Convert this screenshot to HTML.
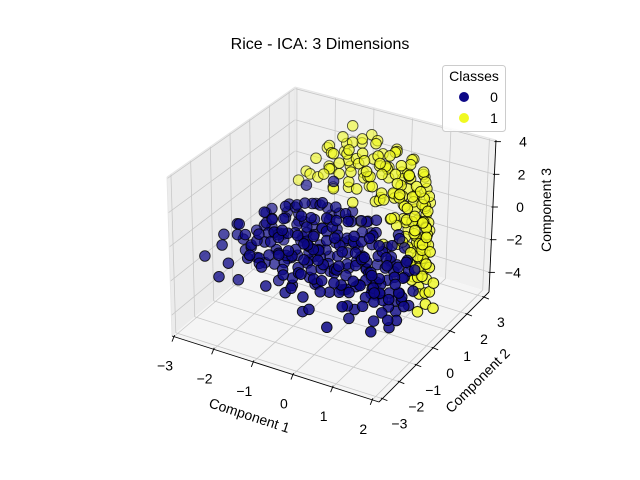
<!DOCTYPE html>
<html><head><meta charset="utf-8"><style>
html,body{margin:0;padding:0;background:#fff;}
svg{display:block;font-family:"Liberation Sans","DejaVu Sans",sans-serif;}
</style></head><body>
<svg id="chart" width="640" height="480" viewBox="0 0 640 480" xmlns="http://www.w3.org/2000/svg">
<rect width="640" height="480" fill="#fff"/>
<g id="panes"></g>
<g id="grid"></g>
<g id="points"></g>
<g id="axes"></g>
<text x="320" y="49" text-anchor="middle" font-size="16" fill="#000">Rice - ICA: 3 Dimensions</text>
<text transform="translate(248,420) rotate(18)" text-anchor="middle" font-size="14">Component 1</text>
<text transform="translate(481,384) rotate(-45)" text-anchor="middle" font-size="14">Component 2</text>
<text transform="translate(551,210) rotate(-90)" text-anchor="middle" font-size="14">Component 3</text>
<g>
<rect x="442.5" y="65.5" width="63" height="66" rx="3" fill="#fff" fill-opacity="0.85" stroke="#ccc"/>
<text x="474" y="81" text-anchor="middle" font-size="14">Classes</text>
<g><circle cx="464" cy="97" r="5" fill="#0d0887"/><text x="494" y="102" text-anchor="middle" font-size="14">0</text></g>
<g><circle cx="464" cy="118" r="5" fill="#f0f921"/><text x="494" y="123" text-anchor="middle" font-size="14">1</text></g>
</g>
</svg>
<script>
const xTicks=[-3,-2,-1,0,1,2];
const yTicks=[-3,-2,-1,0,1,2,3];
const zTicks=[-4,-2,0,2,4];
const xTickLabels=["\u22123","\u22122","\u22121","0","1","2"];
const yTickLabels=["\u22123","\u22122","\u22121","0","1","2","3"];
const zTickLabels=["\u22124","\u22122","0","2","4"];
const class0Points=[
[-2.7,-1.2,-1.4],[-2.5,-0.8,-1.0],[-2.4,-1.5,-2.0],[-2.6,-0.3,-1.8],[-2.3,0.2,-1.2],[-2.2,-1.0,-0.6],[-2.1,-0.5,-2.4],[-2.4,0.5,-0.8],[-2.0,-1.3,-1.6],[-2.2,0.8,-2.2],[-2.0,0.0,-0.4],[-2.5,-1.8,-2.6],[-2.1,1.0,-1.0],[-2.3,-0.2,-2.8],[-3.0,-1.5,-2.0],
[-1.9,-0.6,-1.2],[-1.8,0.3,-0.5],[-1.7,-1.2,-2.0],[-1.9,1.2,-1.6],[-1.6,-0.2,-2.6],[-1.5,0.7,-0.9],[-1.8,-1.6,-1.0],[-1.4,-0.9,-0.3],[-1.7,0.9,-2.4],[-1.3,-0.4,-1.8],[-1.6,1.5,-0.6],[-1.2,0.2,-1.4],[-1.5,-1.4,-2.8],[-1.4,1.0,-1.9],[-1.1,-1.0,-0.8],[-1.3,0.5,-2.9],[-1.9,-0.1,-3.0],[-1.2,1.3,-0.4],[-1.0,-0.2,-2.2],[-1.7,0.0,-0.2],[-1.1,0.8,-1.1],[-1.5,-0.7,-1.5],[-1.0,-1.5,-1.7],[-1.3,1.7,-1.3],[-1.8,0.6,-3.2],[-1.2,-0.6,-3.3],[-1.6,0.4,0.2],[-1.4,0.1,-2.3],
[-0.9,0.4,-0.6],[-0.8,-0.8,-1.3],[-0.7,1.1,-2.0],[-0.9,-1.3,-2.6],[-0.6,0.0,-0.2],[-0.5,-0.5,-1.9],[-0.8,1.6,-1.1],[-0.4,0.7,-2.7],[-0.7,-0.3,-3.1],[-0.3,-1.1,-0.7],[-0.6,1.4,-0.3],[-0.2,0.3,-1.5],[-0.5,-1.6,-1.2],[-0.1,0.9,-2.2],[-0.4,-0.1,0.3],[-0.9,0.2,-1.7],[-0.2,-0.7,-2.9],[-0.6,0.6,-1.0],[-0.3,1.8,-1.8],[-0.8,-0.4,-2.3],[-0.1,-0.2,-0.9],[-0.5,1.0,-3.3],[-0.7,-1.0,-0.1],[-0.2,0.5,0.2],[-0.4,-1.4,-3.4],[-0.95,0.9,-2.8],[-0.15,1.3,-0.5],
[0.1,0.1,-1.1],[0.2,-0.9,-2.0],[0.3,0.8,-0.4],[0.1,-0.4,-2.8],[0.4,1.2,-1.6],[0.5,-0.2,-3.2],[0.2,0.5,-2.4],[0.6,-1.1,-1.3],[0.3,1.6,-2.9],[0.7,0.3,-0.8],[0.4,-0.6,-3.6],[0.8,0.9,-2.1],[0.5,-1.5,-2.5],[0.6,1.4,-0.9],[0.9,-0.3,-1.7],[0.1,1.0,-3.5],[0.7,-0.8,-3.0],[0.3,0.0,-0.2],[0.8,0.5,-3.4],[0.9,1.1,-1.2],[0.2,-1.3,-1.5],[0.6,0.2,-2.6],[0.4,0.6,-3.9],
[1.0,-0.5,-2.3],[1.1,0.4,-3.1],[1.2,-0.1,-1.6],[1.0,0.9,-2.7],[1.3,-0.7,-3.5],[1.1,0.2,-4.0],[1.2,0.7,-2.0],[1.4,0.0,-3.3],[1.0,-1.0,-4.1],[1.3,0.5,-3.8],[1.5,0.3,-2.6],[1.2,-0.4,-4.3],
[0.1,-1.5,-4.0],[-0.8,-0.9,-4.3],[-1.6,1.0,1.0],[-0.9,1.0,1.7],
[-2.2,-0.7,-1.5],[-1.9,0.4,-2.0],[-1.6,-0.9,-0.7],[-1.4,0.6,-1.4],[-1.2,-0.3,-0.6],[-1.0,0.5,-2.5],[-0.8,0.0,-1.5],[-0.6,-0.7,-2.4],[-0.4,0.3,-1.2],[-0.2,-0.4,-1.8],[0.0,0.6,-1.9],[0.2,-0.1,-1.6],[0.4,0.2,-2.2],[0.6,-0.4,-1.9],[0.8,0.0,-2.4],[1.0,0.3,-1.8],[-1.7,-0.4,-1.7],[-1.1,0.1,-1.9],[-0.5,0.4,-2.0],[0.0,-0.6,-1.3],[0.5,0.5,-1.4],[-1.3,-1.1,-1.1],[-0.9,1.2,-1.4],[-0.3,-0.9,-2.1],[0.3,-0.3,-2.6],[0.9,-0.6,-2.8],[-2.0,0.6,-1.9],[-1.5,0.2,-1.1],[-0.7,0.7,-1.6],[-0.1,0.0,-2.5],[0.7,0.8,-1.6],[1.1,-0.2,-2.9],[-1.8,-0.3,-0.8],[-1.0,-0.7,-2.0],[-0.2,1.1,-1.0],[0.4,-0.9,-2.3],[-2.4,0.0,-1.4],[-1.2,0.9,-2.3],[0.0,0.2,-0.6],[0.6,-0.1,-3.0],
[-2.3,-0.5,-1.9],[-2.1,0.3,-1.6],[-1.9,-0.9,-2.2],[-1.7,0.7,-1.2],[-1.5,-0.3,-2.0],[-1.3,0.4,-0.8],[-1.1,-0.8,-2.6],[-0.9,0.6,-2.1],[-0.7,-0.5,-0.9],[-0.5,0.9,-1.4],[-0.3,-0.2,-2.3],[-0.1,0.5,-1.1],[0.1,-0.8,-2.6],[0.3,0.3,-1.7],[0.5,-0.5,-2.2],[0.7,0.6,-2.8],[0.9,-0.1,-3.2],[1.1,0.6,-2.4],[1.3,0.1,-2.9],[-2.2,0.1,-0.9],[-2.0,-0.4,-2.7],[-1.8,1.0,-0.9],[-1.6,-1.0,-1.4],[-1.4,-0.4,-0.5],[-1.2,0.6,-2.7],[-1.0,-0.1,-1.3],[-0.8,-1.1,-1.8],[-0.6,0.2,-2.8],[-0.4,-0.6,-1.5],[-0.2,0.8,-2.5],[0.0,-0.3,-3.0],[0.2,0.8,-1.2],[0.4,-0.2,-1.0],[0.6,0.4,-3.5],[0.8,-0.5,-1.4],[1.0,0.0,-3.6],[1.2,0.3,-3.4],[1.4,-0.3,-2.2],[-2.5,-0.4,-2.3],[-1.9,0.1,-1.4],[-1.3,-0.2,-1.6],[-0.7,0.3,-2.5],[-0.1,-0.5,-1.7],[0.5,0.1,-2.0],[1.1,-0.6,-3.3],[-1.6,0.8,-2.0],[-1.0,1.0,-0.7],[-0.4,1.3,-2.3],[0.2,1.1,-2.7],[0.8,0.3,-1.1],[-1.4,-0.7,-2.4],[-0.8,-0.6,-0.6],[-0.2,-1.2,-2.4],[0.4,-1.0,-3.0],[1.0,-0.8,-2.0],[-2.0,-0.8,-1.0],[-1.1,0.4,-0.2],[-0.5,-0.2,-0.5],[0.1,0.3,-3.2],[0.7,-0.2,-2.5],[-1.7,0.2,-2.8],[-0.9,-0.3,-2.9],[0.3,0.6,-3.6],[1.2,0.1,-1.2],[-2.3,0.6,-1.7],[-1.5,1.1,-1.5],[-0.6,1.2,-1.9],[0.5,0.9,-2.5],[0.9,0.6,-3.9],[1.3,-0.2,-4.0],
[-2.4,-0.9,-0.2],[-2.1,-0.2,0.1],[-1.9,0.7,-0.1],[-1.7,-0.6,0.3],[-1.5,0.3,0.5],[-1.3,-0.9,0.2],[-1.1,0.7,0.4],[-0.9,-0.2,0.6],[-0.7,0.9,0.0],[-0.5,-0.9,0.4],[-0.3,0.4,0.7],[-0.1,-0.6,0.3],[0.1,0.7,0.2],[0.3,-0.4,0.5],[0.5,0.2,0.1],[0.7,-0.7,-0.2],[0.9,0.4,-0.4],[1.1,-0.3,-0.8],[1.3,0.4,-1.0],[1.4,-0.5,-1.5],[-2.2,0.4,-0.3],[-1.8,-1.1,-0.2],[-1.4,0.9,0.1],[-1.0,-0.5,0.9],[-0.6,0.5,0.8],[-0.2,-0.3,1.0],[0.2,0.2,0.8],[0.6,-0.2,0.4],[1.0,0.6,-0.1],[-1.6,-0.1,0.7],[-1.2,0.1,1.0],[-0.8,0.2,1.2],[-0.4,-0.4,1.1],[0.0,-0.1,0.9],[0.4,0.6,0.6],[0.8,-0.1,0.0],[-2.6,-0.6,-0.6],[-2.8,-0.9,-1.1],[1.5,-0.1,-0.5],[1.4,0.6,-1.7],[-2.3,-1.2,-3.2],[-1.6,-0.5,-3.4],[-0.9,0.0,-3.6],[-0.3,0.2,-3.7],[0.3,-0.7,-4.1],[0.8,-0.4,-4.2],[-1.1,-1.2,-3.1],[-2.0,-0.2,-1.1],[-0.6,-1.3,-2.9],[0.0,0.9,-2.9]
];
const class1Points=[
[-1.6,1.5,2.2],[-1.2,1.5,2.8],[-0.8,1.5,3.0],[-0.4,1.5,3.3],[0.0,1.5,3.4],[0.3,1.5,3.6],[-1.0,1.5,2.3],[-0.5,1.5,2.6],[0.2,1.5,2.9],[0.6,1.5,3.2],[0.8,1.5,2.7],[1.0,1.5,2.2],[1.2,1.5,1.6],[1.3,1.5,0.9],[1.2,1.5,0.2],[1.3,1.5,-0.5],[1.1,1.5,-1.2],[1.2,1.5,-2.0],[1.0,1.5,-2.7],[1.3,1.5,-3.2],[1.1,1.5,-3.8],[0.9,1.5,1.5],[0.7,1.5,0.8],[0.9,1.5,0.0],[1.0,1.5,-0.8],[0.8,1.5,-1.6],[0.6,1.5,2.0],[0.4,1.5,1.4],[-0.2,1.5,2.0],[0.1,1.5,1.2],[1.25,1.5,-2.6],[0.95,1.5,-3.3],[1.15,1.5,1.2],[0.5,1.5,-0.5],
[-1.8,2.5,1.8],[-1.3,2.5,2.4],[-0.9,2.5,2.7],[-0.5,2.5,3.1],[0.0,2.5,2.9],[0.4,2.5,2.5],[0.7,2.5,1.8],[0.8,2.5,1.0],[0.9,2.5,0.2],[0.8,2.5,-0.6],[0.9,2.5,-1.5],[0.7,2.5,-2.3],[0.8,2.5,-3.0],[-1.15,2.5,3.6],[0.3,2.5,1.6],[0.5,2.5,0.4],[0.2,2.5,-0.4],[-0.2,2.5,1.0],[0.6,2.5,-1.2],[-0.6,2.5,1.9],
[1.5,0.8,1.0],[1.6,0.8,0.2],[1.7,0.8,-0.6],[1.6,0.8,-1.4],[1.5,0.8,-2.2],[1.7,0.8,-3.0],[1.6,0.8,-3.8],[1.4,0.8,-4.4],[1.8,0.8,-2.4],[1.8,0.8,-3.9],[1.3,0.8,0.4],[1.2,0.8,-1.0],[1.4,0.8,-1.8],[1.5,0.8,-0.3],[1.1,0.8,1.6],[0.9,0.8,2.3],
[-1.5,2.0,2.6],[-0.9,2.0,3.2],[-0.3,2.0,3.5],[0.2,2.0,3.3],[0.6,2.0,2.8],[1.0,2.0,2.0],[1.1,2.0,1.2],[1.0,2.0,0.4],[1.1,2.0,-0.4],[1.0,2.0,-1.3],[0.9,2.0,-2.2],[1.05,2.0,-2.9],[-1.0,2.0,2.0],[-0.2,2.0,2.2],[0.4,2.0,1.8],[0.7,2.0,0.6],[0.5,2.0,-0.8],[-0.6,2.0,1.2],[0.2,2.0,0.5],[0.8,2.0,-1.8],[-2.3,2.0,-0.1],[-2.1,2.0,0.6],
[-1.0,1.2,1.0],[-0.5,1.2,0.5],[0.0,1.2,1.8],[0.5,1.2,0.2],[0.8,1.2,-1.0],[1.0,1.2,-2.2],[0.3,1.2,-1.5],[-0.3,1.2,-0.5],
[-1.4,1.8,1.4],[-0.9,1.8,0.6],[-0.4,1.8,1.6],[0.1,1.8,2.4],[0.5,1.8,1.0],[0.9,1.8,-0.2],[0.6,1.8,-1.4],[0.2,1.8,-0.6],[-0.2,1.8,0.2],[1.1,1.8,0.8],[1.2,1.8,-1.5],[0.7,1.8,2.2],[-0.7,1.8,2.5],[1.0,1.8,-2.5],[0.4,1.8,-2.0],
[-1.6,2.3,0.8],[-1.1,2.3,1.3],[-0.6,2.3,0.4],[-0.1,2.3,1.9],[0.4,2.3,0.9],[0.6,2.3,-0.2],[0.3,2.3,-1.0],[-0.3,2.3,-0.1],[0.8,2.3,2.2],[-0.8,2.3,3.2],[0.1,2.3,3.0],[0.9,2.3,-2.0],[0.6,2.3,-2.6],[-1.3,2.3,3.0],
[-1.5,2.8,1.5],[-1.0,2.8,0.5],[-0.5,2.8,2.0],[0.0,2.8,1.2],[0.4,2.8,0.0],[0.5,2.8,-1.5],[-0.2,2.8,-0.3],[0.3,2.8,2.2],[-0.8,2.8,3.0],[0.2,2.8,-2.2],[0.6,2.8,1.3],[-1.9,2.8,0.3],
[1.4,1.0,-0.9],[1.5,1.0,0.5],[1.3,1.0,-2.6],[1.6,1.0,-1.8],[1.2,1.0,1.0],[1.5,1.0,-3.4],
[-1.3,1.3,1.6],[-0.9,1.3,1.9],[-0.6,1.3,2.2],[-0.2,1.3,2.5],[0.2,1.3,2.6],[0.6,1.3,2.3],[-1.1,1.4,2.9],[-0.7,1.4,3.4],[-0.3,1.4,3.0],[0.1,1.4,3.1],[0.5,1.4,2.7],[-0.4,1.2,1.4],[0.3,1.2,1.2],[0.7,1.2,1.6],[-1.5,1.4,1.2],[-1.8,1.6,1.0],[-1.2,1.6,0.6],[-0.8,1.6,1.2],[0.0,1.6,0.6],[0.4,1.6,-0.2],[0.9,1.2,0.4],[1.1,1.2,-0.3],[1.2,1.2,-1.6],[1.1,1.1,-3.0],[1.3,1.1,-3.7],[1.4,1.2,0.3],[1.2,1.3,2.2],[0.9,1.3,3.0]
];
const xLim=[-3.05,2.17], yLim=[-3.2,3.3], zLim=[-5.2,4.1];
const C={c000:[172,336],c100:[379,402],c110:[489,292],c010:[295,232],c001:[167,177],c101:[376,240],c111:[496,140],c011:[295,87]};
function lerp(a,b,t){return [a[0]+(b[0]-a[0])*t,a[1]+(b[1]-a[1])*t];}
function proj(x,y,z){
  const u=(x-xLim[0])/(xLim[1]-xLim[0]), v=(y-yLim[0])/(yLim[1]-yLim[0]), w=(z-zLim[0])/(zLim[1]-zLim[0]);
  const b=lerp(lerp(C.c000,C.c100,u),lerp(C.c010,C.c110,u),v);
  const t=lerp(lerp(C.c001,C.c101,u),lerp(C.c011,C.c111,u),v);
  return lerp(b,t,w);
}
const NS="http://www.w3.org/2000/svg";
function mk(tag,attrs,parent){const e=document.createElementNS(NS,tag);for(const k in attrs)e.setAttribute(k,attrs[k]);parent.appendChild(e);return e;}
const panes=document.getElementById('panes'), grid=document.getElementById('grid'), pts=document.getElementById('points'), axes=document.getElementById('axes');
function poly(ps){return ps.map(p=>p[0].toFixed(1)+','+p[1].toFixed(1)).join(' ');}
const [x0,x1]=xLim,[y0,y1]=yLim,[z0,z1]=zLim;
let p;
p=mk('polygon',{points:poly([proj(x0,y0,z0),proj(x0,y1,z0),proj(x0,y1,z1),proj(x0,y0,z1)]),fill:'#ececec'},panes);


p=mk('polygon',{points:poly([proj(x0,y1,z0),proj(x1,y1,z0),proj(x1,y1,z1),proj(x0,y1,z1)]),fill:'#f0f0f0'},panes);


p=mk('polygon',{points:poly([proj(x0,y0,z0),proj(x1,y0,z0),proj(x1,y1,z0),proj(x0,y1,z0)]),fill:'#f5f5f5'},panes);


function gl(a,b){const l=mk('line',{x1:a[0],y1:a[1],x2:b[0],y2:b[1],stroke:'#c8c8c8','stroke-width':0.8},grid);

}
xTicks.forEach(t=>{gl(proj(t,y0,z0),proj(t,y1,z0));gl(proj(t,y1,z0),proj(t,y1,z1));});
yTicks.forEach(t=>{gl(proj(x0,t,z0),proj(x1,t,z0));gl(proj(x0,t,z0),proj(x0,t,z1));});
zTicks.forEach(t=>{gl(proj(x0,y0,t),proj(x0,y1,t));gl(proj(x0,y1,t),proj(x1,y1,t));});
[[proj(x0,y0,z1),proj(x0,y1,z1)],[proj(x0,y1,z1),proj(x1,y1,z1)],[proj(x0,y1,z0),proj(x0,y1,z1)],[proj(x0,y0,z0),proj(x0,y0,z1)]].forEach(e=>{
 const l=mk('line',{x1:e[0][0],y1:e[0][1],x2:e[1][0],y2:e[1][1],stroke:'#e6e6e6','stroke-width':1},grid);
 
 
});
const all=[];
class0Points.forEach(q=>all.push({q,c:'#0d0887',cls:0}));
class1Points.forEach(q=>all.push({q,c:'#f0f921',cls:1}));
all.forEach(o=>{const u=(o.q[0]-x0)/(x1-x0),v=(o.q[1]-y0)/(y1-y0);o.n=(0.5*u-0.87*v+0.87)/1.37;});
all.sort((a,b)=>a.n-b.n);
all.forEach(o=>{
 const s=proj(o.q[0],o.q[1],o.q[2]);
 const a=Math.min(0.95,0.45+0.6*o.n);
 const c=mk('circle',{cx:s[0].toFixed(1),cy:s[1].toFixed(1),r:5.3,fill:o.c,'fill-opacity':a,stroke:'#000','stroke-opacity':Math.min(0.9,a+0.1),'stroke-width':0.9},pts);
 
 
});
function axl(a,b,name){const l=mk('line',{x1:a[0],y1:a[1],x2:b[0],y2:b[1],stroke:'#000','stroke-width':0.9},axes);

}
axl(proj(x0,y0,z0),proj(x1,y0,z0),'x-axis-line');
axl(proj(x1,y0,z0),proj(x1,y1,z0),'y-axis-line');
axl(proj(x1,y1,z0),proj(x1,y1,z1),'z-axis-line');
function tick(a,dx,dy,lab,lx,ly,anchor,name){
 const l=mk('line',{x1:a[0]-dx*0.3,y1:a[1]-dy*0.3,x2:a[0]+dx,y2:a[1]+dy,stroke:'#000','stroke-width':0.9},axes);
 
 
 const t=mk('text',{x:(a[0]+lx).toFixed(1),y:(a[1]+ly).toFixed(1),'font-size':14,'text-anchor':anchor},axes);
 t.textContent=lab;
 
 
}
xTicks.forEach((t,i)=>tick(proj(t,y0,z0),-2,5,xTickLabels[i],-9,34,'middle','x-tick'));
yTicks.forEach((t,i)=>tick(proj(x1,t,z0),5,2,yTickLabels[i],17,30,'middle','y-tick'));
zTicks.forEach((t,i)=>tick(proj(x1,y1,t),5,0,zTickLabels[i],31,5,'end','z-tick'));
</script>
</body></html>
